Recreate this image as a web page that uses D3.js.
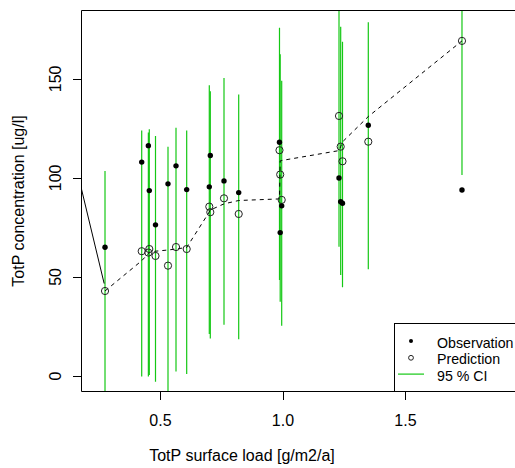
<!DOCTYPE html>
<html>
<head>
<meta charset="utf-8">
<script src="https://cdn.jsdelivr.net/npm/d3@7"></script>
<style>
  body { margin: 0; background: #fff; }
  svg { display: block; font-family: 'Liberation Sans', Arial, sans-serif; }
</style>
</head>
<body>
<div class="chart"></div>
<script>
// values
const loadX = [0.2735, 0.4233, 0.4505, 0.4543, 0.4796, 0.5306, 0.5633, 0.6069, 0.6992, 0.7033,
  0.7592, 0.8192, 0.9857, 0.9886, 0.9947, 1.2286, 1.2355, 1.2429, 1.3482, 1.7306];
const observed = [65.0, 108.0, 116.3, 93.6, 76.3, 97.0, 106.1, 94.1, 95.5, 111.3,
  98.5, 92.6, 118.0, 72.4, 85.9, 100.0, 88.0, 87.2, 126.6, 93.9];
const predicted = [42.9, 63.0, 62.3, 64.1, 60.6, 55.7, 65.1, 64.1, 85.5, 82.7,
  89.7, 81.8, 114.0, 101.7, 88.9, 131.3, 115.8, 108.4, 118.3, 169.2];
const ciLow = [-18, -0.3, -0.3, 0.5, -2.9, -10, 2.2, 1.0, 21.2, 18.9,
  25.8, 18.5, 48.5, 37.5, 25.4, 65.3, 51.0, 44.8, 53.9, 101.5];
const ciHigh = [103.5, 123.9, 122.9, 124.6, 121.2, 115.7, 125.4, 123.9, 146.8, 143.8,
  150.5, 142.1, 175.8, 162.5, 149.1, 197, 176.3, 168.8, 178.6, 237];
const curveY = [42.9, 58.2, 61.8, 62.4, 63.0, 63.6, 64.1, 64.9, 82.8, 83.8,
  86.9, 88.6, 89.4, 108.6, 108.8, 113.8, 115.8, 118.2, 131.0, 169.2];
const solidX = [0.15, 0.2735];
const solidY = [108.5, 44.9];
const xTicks = [0.5, 1.0, 1.5];
const yTicks = [0, 50, 100, 150];
const legendLabels = ['Observation', 'Prediction', '95 % CI'];

const width = 515;
const height = 468;
const plotLeft = 81.5, plotTop = 10.5, plotBottom = 391.5, plotRight = 600;
const green = '#14c814';

const svg = d3.select('div.chart')
  .append('svg')
  .attr('width', width)
  .attr('height', height);

const x = d3.scaleLinear().domain([0.1755, 1.947]).range([81, 515]);
const y = d3.scaleLinear().domain([-7.6, 184.8]).range([391, 10]);

svg.append('clipPath').attr('id', 'plot')
  .append('rect')
  .attr('x', plotLeft).attr('y', plotTop)
  .attr('width', plotRight - plotLeft).attr('height', plotBottom - plotTop);

const plot = svg.append('g').attr('clip-path', 'url(#plot)');
const rows = loadX.map((d, i) => ({
  x: d, obs: observed[i], pred: predicted[i], lo: ciLow[i], hi: ciHigh[i], curve: curveY[i]
}));

// confidence intervals
plot.selectAll('line.ci')
  .data(rows)
  .enter()
  .append('line')
  .attr('class', 'ci')
  .attr('x1', (d) => x(d.x))
  .attr('x2', (d) => x(d.x))
  .attr('y1', (d) => y(d.lo))
  .attr('y2', (d) => y(d.hi))
  .attr('stroke', green)
  .attr('stroke-width', 1.2);

// solid segment coming in from the left, stops at the first circle's edge
const solidPts = solidX.map((d, i) => [x(d), y(solidY[i])]);
const [p0, p1] = solidPts;
const len = Math.hypot(p1[0] - p0[0], p1[1] - p0[1]);
const cut = 3.6 / len;
plot.append('path')
  .attr('d', d3.line()([p0, [p1[0] - (p1[0] - p0[0]) * cut, p1[1] - (p1[1] - p0[1]) * cut]]))
  .attr('fill', 'none')
  .attr('stroke', '#000')
  .attr('stroke-width', 1);

// dashed prediction curve
plot.append('path')
  .datum(rows)
  .attr('d', d3.line().x((d) => x(d.x)).y((d) => y(d.curve)))
  .attr('fill', 'none')
  .attr('stroke', '#000')
  .attr('stroke-width', 1)
  .attr('stroke-dasharray', '4,4');

plot.selectAll('circle.pred')
  .data(rows)
  .enter()
  .append('circle')
  .attr('class', 'pred')
  .attr('cx', (d) => x(d.x))
  .attr('cy', (d) => y(d.pred))
  .attr('r', 3.6)
  .attr('fill', 'none')
  .attr('stroke', '#222')
  .attr('stroke-width', 1);

plot.selectAll('circle.obs')
  .data(rows)
  .enter()
  .append('circle')
  .attr('class', 'obs')
  .attr('cx', (d) => x(d.x))
  .attr('cy', (d) => y(d.obs))
  .attr('r', 2.7)
  .attr('fill', '#000');

// frame
svg.append('path')
  .attr('d', `M${plotRight},${plotTop}H${plotLeft}V${plotBottom}H${plotRight}`)
  .attr('fill', 'none')
  .attr('stroke', '#000')
  .attr('stroke-width', 1);

// x axis
svg.selectAll('line.xtick')
  .data(xTicks)
  .enter()
  .append('line')
  .attr('x1', (d) => Math.round(x(d)) + 0.5)
  .attr('x2', (d) => Math.round(x(d)) + 0.5)
  .attr('y1', plotBottom)
  .attr('y2', plotBottom + 8.5)
  .attr('stroke', '#000');

svg.selectAll('text.xtick')
  .data(xTicks)
  .enter()
  .append('text')
  .attr('x', (d) => x(d))
  .attr('y', 426)
  .attr('text-anchor', 'middle')
  .attr('font-size', 16)
  .text((d) => d3.format('.1f')(d));

// y axis
svg.selectAll('line.ytick')
  .data(yTicks)
  .enter()
  .append('line')
  .attr('x1', plotLeft - 8.5)
  .attr('x2', plotLeft)
  .attr('y1', (d) => Math.round(y(d)) + 0.5)
  .attr('y2', (d) => Math.round(y(d)) + 0.5)
  .attr('stroke', '#000');

svg.selectAll('text.ytick')
  .data(yTicks)
  .enter()
  .append('text')
  .attr('transform', (d) => `translate(61,${y(d)}) rotate(-90)`)
  .attr('text-anchor', 'middle')
  .attr('font-size', 16)
  .text((d) => d);

svg.append('text')
  .attr('x', 242)
  .attr('y', 461)
  .attr('text-anchor', 'middle')
  .attr('font-size', 16)
  .text('TotP surface load [g/m2/a]');

svg.append('text')
  .attr('transform', `translate(24,${(plotTop + plotBottom) / 2}) rotate(-90)`)
  .attr('text-anchor', 'middle')
  .attr('font-size', 16)
  .text('TotP concentration [ug/l]');

// legend
const legend = svg.append('g');
legend.append('rect')
  .attr('x', 394.5).attr('y', 323.5)
  .attr('width', 200).attr('height', plotBottom - 323.5)
  .attr('fill', '#fff')
  .attr('stroke', '#000');

const rowY = (i) => 347.5 + i * 16.8;
legend.selectAll('text')
  .data(legendLabels)
  .enter()
  .append('text')
  .attr('x', 437)
  .attr('y', (d, i) => rowY(i))
  .attr('font-size', 14.2)
  .text((d) => d);

legend.append('circle')
  .attr('cx', 411).attr('cy', rowY(0) - 6.5)
  .attr('r', 2).attr('fill', '#000');
legend.append('circle')
  .attr('cx', 411).attr('cy', rowY(1) - 6.5)
  .attr('r', 2.4).attr('fill', 'none').attr('stroke', '#222');
legend.append('line')
  .attr('x1', 398).attr('x2', 424)
  .attr('y1', rowY(2) - 7).attr('y2', rowY(2) - 7)
  .attr('stroke', green).attr('stroke-width', 1.2);
</script>
</body>
</html>
